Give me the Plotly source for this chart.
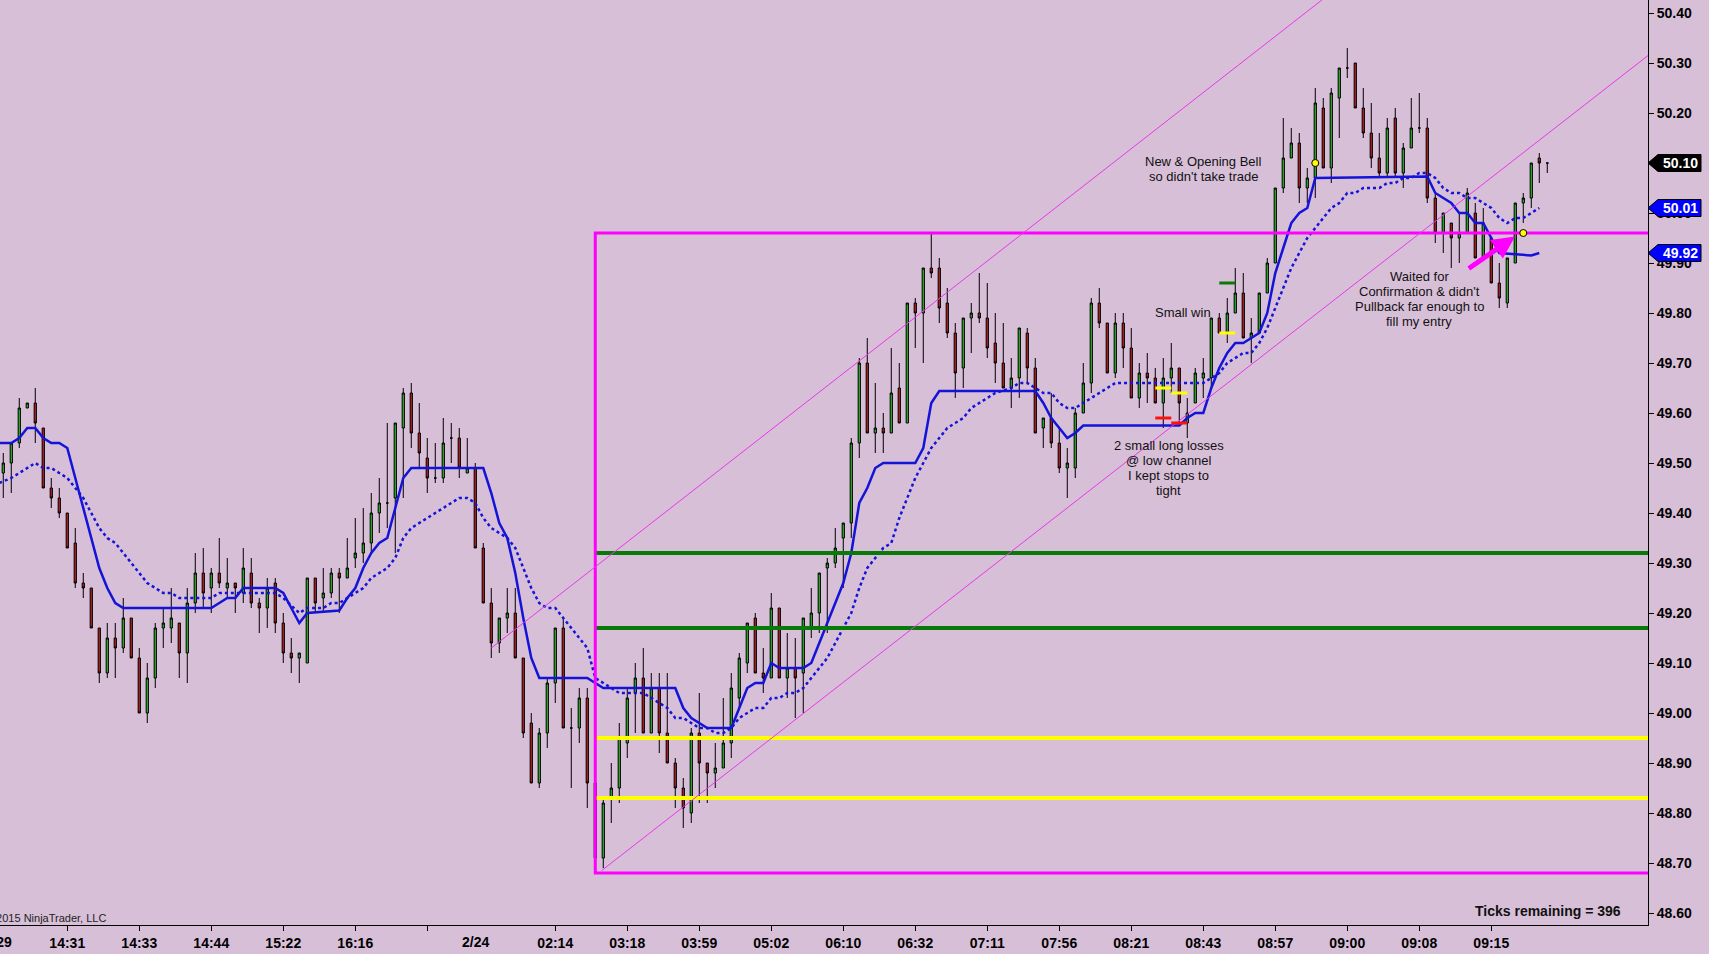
import plotly.graph_objects as go

# ---- price bars (one per bar slot, tick = 0.01) ----
opens = [
    49.48, 49.50, 49.54, 49.61, 49.62, 49.57, 49.45, 49.43, 49.40, 49.34,
    49.26, 49.25, 49.17, 49.08, 49.15, 49.13, 49.19, 49.11, 49.00, 49.07,
    49.17, 49.17, 49.18, 49.12, 49.22, 49.28, 49.25, 49.28, 49.25, 49.26,
    49.24, 49.28, 49.22, 49.21, 49.26, 49.18, 49.12, 49.11, 49.10, 49.27,
    49.23, 49.24, 49.28, 49.27, 49.31, 49.32, 49.34, 49.40, 49.42, 49.43,
    49.57, 49.64, 49.56, 49.51, 49.47, 49.47, 49.55, 49.55, 49.48, 49.49,
    49.33, 49.22, 49.14, 49.19, 49.20, 49.11, 48.98, 48.86, 48.96, 49.06,
    49.17, 48.97, 48.97, 49.03, 48.86, 48.71, 48.83, 48.85, 48.94, 49.04,
    49.07, 48.96, 49.05, 48.96, 48.90, 48.85, 48.80, 48.96, 48.90, 48.88,
    48.89, 48.94, 49.03, 49.10, 49.19, 49.08, 49.07, 49.21, 49.07, 49.09,
    49.08, 49.17, 49.20, 49.29, 49.30, 49.35, 49.38, 49.54, 49.70, 49.56,
    49.57, 49.56, 49.65, 49.58, 49.82, 49.80, 49.89, 49.89, 49.82, 49.76,
    49.69, 49.79, 49.80, 49.79, 49.74, 49.70, 49.65, 49.67, 49.76, 49.69,
    49.57, 49.59, 49.54, 49.49, 49.49, 49.60, 49.66, 49.82, 49.78, 49.68,
    49.78, 49.73, 49.63, 49.68, 49.67, 49.62, 49.67, 49.69, 49.58, 49.62,
    49.67, 49.67, 49.79, 49.76, 49.80, 49.84, 49.75, 49.76, 49.84, 49.90,
    50.05, 50.11, 50.14, 50.05, 50.07, 50.21, 50.09, 50.23, 50.29, 50.30,
    50.21, 50.16, 50.11, 50.08, 50.19, 50.08, 50.13, 50.17, 50.17, 50.03,
    49.96, 49.98, 49.95, 49.96, 50.00, 49.91, 49.95, 49.86, 49.82, 49.90,
    50.02, 50.03, 50.11, 50.10,
]
highs = [
    49.52, 49.54, 49.63, 49.62, 49.65, 49.57, 49.47, 49.45, 49.40, 49.37,
    49.28, 49.25, 49.17, 49.18, 49.18, 49.23, 49.19, 49.13, 49.10, 49.18,
    49.21, 49.25, 49.18, 49.25, 49.32, 49.33, 49.29, 49.35, 49.31, 49.26,
    49.33, 49.31, 49.23, 49.27, 49.27, 49.20, 49.15, 49.12, 49.27, 49.27,
    49.29, 49.29, 49.29, 49.35, 49.39, 49.41, 49.44, 49.47, 49.58, 49.58,
    49.65, 49.66, 49.62, 49.55, 49.54, 49.59, 49.58, 49.57, 49.55, 49.50,
    49.34, 49.25, 49.19, 49.25, 49.25, 49.11, 49.00, 48.97, 49.07, 49.17,
    49.19, 49.01, 49.05, 49.05, 48.87, 48.83, 48.90, 48.98, 49.05, 49.10,
    49.13, 49.08, 49.08, 49.08, 48.91, 48.87, 48.97, 49.04, 48.90, 48.94,
    49.03, 49.08, 49.12, 49.18, 49.20, 49.13, 49.24, 49.21, 49.16, 49.15,
    49.19, 49.25, 49.28, 49.31, 49.37, 49.38, 49.55, 49.71, 49.75, 49.66,
    49.60, 49.73, 49.70, 49.82, 49.83, 49.89, 49.96, 49.91, 49.85, 49.78,
    49.79, 49.82, 49.88, 49.86, 49.80, 49.78, 49.71, 49.77, 49.77, 49.71,
    49.59, 49.64, 49.57, 49.53, 49.61, 49.70, 49.83, 49.85, 49.78, 49.80,
    49.80, 49.77, 49.70, 49.72, 49.69, 49.71, 49.74, 49.69, 49.63, 49.69,
    49.71, 49.79, 49.80, 49.83, 49.89, 49.88, 49.79, 49.84, 49.91, 50.05,
    50.19, 50.17, 50.16, 50.09, 50.25, 50.23, 50.25, 50.29, 50.33, 50.30,
    50.25, 50.22, 50.16, 50.19, 50.21, 50.14, 50.23, 50.24, 50.19, 50.04,
    50.00, 49.98, 50.00, 50.05, 50.02, 50.01, 49.95, 49.90, 49.91, 50.02,
    50.04, 50.10, 50.12, 50.10,
]
lows = [
    49.43, 49.44, 49.53, 49.61, 49.54, 49.45, 49.41, 49.39, 49.33, 49.25,
    49.23, 49.17, 49.06, 49.07, 49.07, 49.12, 49.11, 49.00, 48.98, 49.05,
    49.13, 49.14, 49.07, 49.06, 49.20, 49.21, 49.20, 49.25, 49.23, 49.20,
    49.22, 49.21, 49.16, 49.17, 49.16, 49.10, 49.08, 49.06, 49.10, 49.20,
    49.20, 49.23, 49.20, 49.27, 49.29, 49.30, 49.32, 49.36, 49.37, 49.32,
    49.43, 49.53, 49.49, 49.44, 49.46, 49.46, 49.50, 49.47, 49.48, 49.33,
    49.22, 49.11, 49.12, 49.16, 49.11, 48.95, 48.86, 48.85, 48.93, 49.02,
    48.97, 48.85, 48.94, 48.81, 48.68, 48.69, 48.78, 48.82, 48.91, 48.96,
    48.96, 48.96, 48.92, 48.90, 48.81, 48.77, 48.78, 48.82, 48.82, 48.85,
    48.89, 48.91, 49.01, 49.08, 49.08, 49.04, 49.07, 49.07, 49.03, 48.99,
    49.00, 49.15, 49.16, 49.16, 49.29, 49.25, 49.35, 49.51, 49.56, 49.52,
    49.52, 49.56, 49.58, 49.58, 49.73, 49.70, 49.87, 49.78, 49.75, 49.63,
    49.65, 49.72, 49.78, 49.71, 49.66, 49.65, 49.61, 49.63, 49.66, 49.56,
    49.53, 49.53, 49.48, 49.43, 49.47, 49.60, 49.64, 49.77, 49.68, 49.67,
    49.69, 49.63, 49.61, 49.62, 49.62, 49.57, 49.64, 49.58, 49.55, 49.62,
    49.63, 49.65, 49.76, 49.74, 49.80, 49.75, 49.70, 49.76, 49.84, 49.90,
    50.04, 50.11, 50.02, 50.02, 50.03, 50.09, 50.06, 50.15, 50.27, 50.21,
    50.15, 50.09, 50.07, 50.07, 50.07, 50.05, 50.13, 50.16, 50.02, 49.94,
    49.92, 49.89, 49.90, 49.96, 49.91, 49.91, 49.86, 49.81, 49.81, 49.90,
    49.98, 50.01, 50.06, 50.08,
]
closes = [
    49.50, 49.54, 49.61, 49.62, 49.58, 49.45, 49.43, 49.40, 49.33, 49.26,
    49.25, 49.17, 49.08, 49.15, 49.13, 49.19, 49.11, 49.00, 49.07, 49.17,
    49.18, 49.19, 49.12, 49.22, 49.28, 49.24, 49.28, 49.26, 49.26, 49.25,
    49.29, 49.22, 49.21, 49.25, 49.18, 49.12, 49.11, 49.12, 49.27, 49.22,
    49.24, 49.28, 49.27, 49.29, 49.32, 49.34, 49.40, 49.42, 49.42, 49.58,
    49.64, 49.56, 49.52, 49.47, 49.47, 49.54, 49.55, 49.49, 49.49, 49.33,
    49.22, 49.14, 49.19, 49.20, 49.11, 48.96, 48.86, 48.96, 49.06, 49.17,
    48.97, 48.97, 49.03, 48.86, 48.71, 48.82, 48.85, 48.95, 49.03, 49.07,
    48.96, 49.05, 48.96, 48.90, 48.85, 48.81, 48.96, 48.90, 48.88, 48.89,
    48.94, 49.05, 49.11, 49.18, 49.08, 49.07, 49.21, 49.07, 49.09, 49.07,
    49.19, 49.20, 49.28, 49.30, 49.33, 49.38, 49.54, 49.70, 49.56, 49.57,
    49.56, 49.64, 49.58, 49.82, 49.80, 49.89, 49.88, 49.81, 49.76, 49.68,
    49.79, 49.80, 49.79, 49.73, 49.70, 49.65, 49.67, 49.77, 49.69, 49.56,
    49.59, 49.54, 49.49, 49.50, 49.60, 49.66, 49.82, 49.78, 49.68, 49.78,
    49.73, 49.63, 49.68, 49.67, 49.62, 49.67, 49.69, 49.62, 49.60, 49.68,
    49.68, 49.79, 49.76, 49.80, 49.84, 49.75, 49.76, 49.84, 49.90, 50.05,
    50.11, 50.14, 50.05, 50.07, 50.22, 50.09, 50.24, 50.29, 50.29, 50.21,
    50.16, 50.11, 50.08, 50.17, 50.08, 50.13, 50.17, 50.17, 50.03, 49.96,
    50.00, 49.95, 49.96, 50.04, 49.91, 49.98, 49.86, 49.83, 49.91, 50.02,
    50.03, 50.10, 50.10, 50.10,
]

# ---- indicators (vertices at bar index) ----
fast_x = [-0.5, 1, 2, 3, 4, 5, 6, 7, 8, 9, 10, 11, 12, 13, 14, 15, 26, 27, 28, 29,
          30, 34, 35, 36, 37, 38, 42, 43, 44, 45, 46, 47, 48, 49, 50, 51, 60, 61, 62, 63,
          64, 65, 66, 67, 73, 74, 75, 84, 85, 86, 87, 88, 91, 92, 93, 94, 95, 96, 97, 100,
          101, 102, 103, 104, 105, 106, 107, 108, 109, 110, 114, 115, 116, 117, 129, 130, 131, 132, 133, 134,
          135, 147, 148, 149, 150, 151, 152, 153, 154, 155, 156, 157, 158, 159, 160, 161, 162, 163, 164, 178,
          179, 180, 181, 182, 183, 184, 185, 186, 187, 191, 192]
fast_y = [49.54, 49.54, 49.55, 49.57, 49.57, 49.55, 49.54, 49.54, 49.53, 49.47, 49.41, 49.35, 49.29, 49.25, 49.22, 49.21, 49.21, 49.22, 49.23, 49.23,
          49.25, 49.25, 49.24, 49.21, 49.18, 49.20, 49.205, 49.23, 49.25, 49.29, 49.32, 49.34, 49.35, 49.41, 49.47, 49.49, 49.49, 49.44, 49.38, 49.35,
          49.28, 49.19, 49.11, 49.07, 49.07, 49.06, 49.05, 49.05, 49.01, 48.99, 48.98, 48.97, 48.97, 49.01, 49.05, 49.06, 49.06, 49.10, 49.09, 49.09,
          49.10, 49.14, 49.18, 49.22, 49.26, 49.32, 49.42, 49.45, 49.49, 49.50, 49.50, 49.53, 49.62, 49.644, 49.644, 49.62, 49.59, 49.57, 49.55, 49.56,
          49.575, 49.575, 49.59, 49.60, 49.60, 49.65, 49.69, 49.72, 49.74, 49.74, 49.75, 49.76, 49.80, 49.88, 49.93, 49.98, 50.00, 50.01, 50.07, 50.073,
          50.04, 50.03, 50.02, 50.00, 50.00, 49.98, 49.98, 49.95, 49.92, 49.915, 49.92]

slow_x = [-0.5, 1, 2, 3, 4, 5, 6, 7, 8, 9, 10, 11, 12, 13, 14, 15, 16, 17, 18, 19,
          20, 21, 22, 26, 27, 34, 35, 36, 37, 38, 40, 41, 42, 43, 44, 45, 46, 47, 48, 49,
          50, 51, 52, 53, 54, 55, 56, 57, 58, 59, 60, 61, 62, 63, 64, 65, 66, 67, 68, 69,
          70, 71, 72, 73, 74, 75, 76, 77, 80, 81, 82, 83, 84, 85, 86, 87, 88, 89, 90, 91,
          92, 93, 94, 95, 96, 97, 98, 99, 100, 101, 102, 103, 104, 105, 106, 107, 108, 109, 110, 111,
          112, 113, 114, 115, 116, 117, 118, 119, 120, 121, 122, 123, 124, 125, 126, 127, 128, 129, 130, 131,
          132, 133, 134, 135, 136, 137, 138, 139, 150, 151, 152, 153, 154, 155, 156, 157, 158, 159, 160, 161,
          162, 163, 164, 165, 166, 167, 168, 169, 170, 172, 173, 174, 175, 176, 177, 178, 179, 180, 181, 182,
          183, 184, 185, 186, 187, 188, 189, 190, 191, 192]
slow_y = [49.46, 49.47, 49.48, 49.49, 49.50, 49.49, 49.49, 49.48, 49.47, 49.45, 49.43, 49.40, 49.37, 49.35, 49.34, 49.32, 49.30, 49.28, 49.26, 49.25,
          49.24, 49.24, 49.23, 49.23, 49.24, 49.24, 49.23, 49.215, 49.20, 49.21, 49.21, 49.22, 49.22, 49.23, 49.24, 49.25, 49.27, 49.28, 49.29, 49.31,
          49.35, 49.37, 49.38, 49.39, 49.40, 49.41, 49.42, 49.43, 49.43, 49.42, 49.39, 49.37, 49.36, 49.35, 49.33, 49.29, 49.25, 49.22, 49.21, 49.21,
          49.19, 49.17, 49.15, 49.13, 49.07, 49.06, 49.05, 49.04, 49.04, 49.03, 49.02, 49.01, 48.99, 48.99, 48.98, 48.97, 48.97, 48.96, 48.96, 48.97,
          48.99, 49.00, 49.01, 49.01, 49.03, 49.03, 49.04, 49.04, 49.05, 49.07, 49.09, 49.11, 49.14, 49.17, 49.20, 49.25, 49.29, 49.31, 49.33, 49.34,
          49.39, 49.43, 49.47, 49.50, 49.53, 49.55, 49.57, 49.58, 49.59, 49.61, 49.62, 49.63, 49.64, 49.645, 49.65, 49.66, 49.66, 49.65, 49.64, 49.64,
          49.62, 49.61, 49.61, 49.62, 49.63, 49.64, 49.65, 49.66, 49.66, 49.67, 49.68, 49.70, 49.71, 49.72, 49.72, 49.74, 49.77, 49.81, 49.85, 49.89,
          49.92, 49.95, 49.97, 49.99, 50.01, 50.02, 50.04, 50.04, 50.05, 50.05, 50.06, 50.06, 50.07, 50.07, 50.08, 50.08, 50.07, 50.05, 50.04, 50.04,
          50.03, 50.03, 50.02, 50.01, 49.99, 49.98, 49.99, 49.99, 50.00, 50.01]

# ---- hand-drawn objects ----
box_left = 74.0
box_top = 49.96
box_bottom = 48.68
green_levels = [49.32, 49.17]
yellow_levels = [48.95, 48.83]
chan_upper_x = [61.0, 206.0]
chan_upper_y = [49.13, 50.94]
chan_lower_x = [74.8, 206.0]
chan_lower_y = [48.685, 50.32]

# trade marks: (start bar, end bar, price)
marks_yellow = [(144, 146, 49.65), (146, 148, 49.64), (152, 154, 49.76)]
marks_red = [(144, 146, 49.59), (146, 148, 49.58)]
marks_green = [(152, 154, 49.86)]
dots_x = [164, 190]
dots_y = [50.10, 49.96]

tick_bars = [8, 17, 26, 35, 44, 53, 69, 78, 87, 96, 105, 114, 123, 132, 141, 150, 159, 168, 177, 186]
tick_text = ["14:31", "14:33", "14:44", "15:22", "16:16", "", "02:14", "03:18", "03:59", "05:02",
             "06:10", "06:32", "07:11", "07:56", "08:21", "08:43", "08:57", "09:00", "09:08", "09:15"]

W, H = 1709, 954
R_M, B_M = 61, 29
PW, PH = W - R_M, H - B_M
X_MIN, X_MAX = -0.41, 205.59
Y_MIN, Y_MAX = 48.576, 50.426

BG = "#D8BFD8"
UP = "#2DB52D"
DOWN = "#B22222"
MAG = "#FF00FF"
BLUE = "#1414D8"
FONT = "Liberation Sans, Arial, sans-serif"

fig = go.Figure()

fig.add_trace(go.Candlestick(
    x=list(range(len(opens))), open=opens, high=highs, low=lows, close=closes,
    increasing=dict(fillcolor=UP, line=dict(color="black", width=1)),
    decreasing=dict(fillcolor=DOWN, line=dict(color="black", width=1)),
    whiskerwidth=0, hoverinfo="skip", showlegend=False,
))

fig.add_trace(go.Scatter(x=slow_x, y=slow_y, mode="lines",
                         line=dict(color=BLUE, width=2.5, dash="dot"),
                         hoverinfo="skip", showlegend=False))
fig.add_trace(go.Scatter(x=fast_x, y=fast_y, mode="lines",
                         line=dict(color=BLUE, width=2.5),
                         hoverinfo="skip", showlegend=False))

def hline(x0, x1, y, color, width):
    fig.add_trace(go.Scatter(x=[x0, x1], y=[y, y], mode="lines",
                             line=dict(color=color, width=width),
                             hoverinfo="skip", showlegend=False))

for lv in green_levels:
    hline(box_left, 210, lv, "#087A08", 4)
for lv in yellow_levels:
    hline(box_left, 210, lv, "#FFFF00", 4)

# the box
fig.add_trace(go.Scatter(x=[210, box_left, box_left, 210],
                         y=[box_top, box_top, box_bottom, box_bottom],
                         mode="lines", line=dict(color=MAG, width=3),
                         hoverinfo="skip", showlegend=False))

# channel
for cx, cy in [(chan_upper_x, chan_upper_y), (chan_lower_x, chan_lower_y)]:
    fig.add_trace(go.Scatter(x=cx, y=cy, mode="lines", line=dict(color="#E838E8", width=1),
                             hoverinfo="skip", showlegend=False))

for marks, col in [(marks_yellow, "#FFFF00"), (marks_red, "#FF1010"), (marks_green, "#087A08")]:
    for x0, x1, p in marks:
        hline(x0, x1, p, col, 3)

fig.add_trace(go.Scatter(x=dots_x, y=dots_y, mode="markers",
                         marker=dict(color="#FFFF00", size=7, line=dict(color="black", width=1)),
                         hoverinfo="skip", showlegend=False))

annos = []

def note(lines, x, y, size=13):
    n = len(lines)
    for i, t in enumerate(lines):
        annos.append(dict(x=x, y=y, xref="x", yref="y", text=t, showarrow=False,
                          xanchor="center", yanchor="middle",
                          yshift=-(i - (n - 1) / 2) * 15,
                          font=dict(family=FONT, size=size, color="#111111")))

note(["New & Opening Bell", "so didn't take trade"], 150, 50.088)
note(["Small win"], 147.5, 49.802)
note(["2 small long losses", "@ low channel", "I kept stops to", "tight"], 145.7, 49.491)
note(["Waited for", "Confirmation & didn't", "Pullback far enough to", "fill my entry"], 177.0, 49.829)

# magenta arrow
annos.append(dict(x=188.96, y=49.953, ax=183.0, ay=49.887, xref="x", yref="y",
                  axref="x", ayref="y", text="", showarrow=True, arrowhead=2,
                  arrowsize=0.9, arrowwidth=5, arrowcolor=MAG, standoff=0))

annos.append(dict(x=1623 / PW, y=(PH - 911) / PH, xref="paper", yref="paper",
                  text="<b>Ticks remaining = 396</b>", showarrow=False,
                  xanchor="right", yanchor="middle",
                  font=dict(family=FONT, size=14, color="#111111")))
annos.append(dict(x=108 / PW, y=(PH - 918) / PH, xref="paper", yref="paper",
                  text="©2015 NinjaTrader, LLC", showarrow=False,
                  xanchor="right", yanchor="middle",
                  font=dict(family=FONT, size=11, color="#222222")))
# cut-off first time label and the date label
annos.append(dict(x=13.7 / PW, y=0, xref="paper", yref="paper", yshift=-7,
                  text="<b>14:29</b>", showarrow=False, xanchor="right", yanchor="top",
                  font=dict(family=FONT, size=14, color="black")))
annos.append(dict(x=59, y=0, xref="x", yref="paper", yshift=-7,
                  text="<b>2/24</b>", showarrow=False, xanchor="center", yanchor="top",
                  font=dict(family=FONT, size=14, color="black")))

# price tags on the right axis
shapes = []
def tag(price, color):
    yp = (price - Y_MIN) / (Y_MAX - Y_MIN)
    hh = 8.5 / PH
    xa, xb, xc = 1.0, 1 + 10 / PW, 1 + 53 / PW
    path = (f"M {xa},{yp} L {xb},{yp + hh} L {xc},{yp + hh} "
            f"L {xc},{yp - hh} L {xb},{yp - hh} Z")
    shapes.append(dict(type="path", path=path, xref="paper", yref="paper",
                       fillcolor=color, line=dict(color="black", width=1), layer="above"))
    annos.append(dict(x=1 + 32 / PW, y=yp, xref="paper", yref="paper",
                      text=f"<b>{price:.2f}</b>", showarrow=False,
                      xanchor="center", yanchor="middle",
                      font=dict(family=FONT, size=14, color="white")))

tag(closes[-1], "black")
tag(slow_y[-1], "#0000FF")
tag(fast_y[-1], "#0000FF")

fig.update_layout(
    width=W, height=H,
    margin=dict(l=0, r=R_M, t=0, b=B_M),
    paper_bgcolor=BG, plot_bgcolor=BG,
    boxgap=0.6,
    showlegend=False,
    annotations=annos,
    shapes=shapes,
    xaxis=dict(range=[X_MIN, X_MAX], rangeslider=dict(visible=False),
               showgrid=False, zeroline=False, showline=True, linecolor="black", linewidth=1,
               ticks="outside", ticklen=5, tickcolor="black",
               tickvals=tick_bars, ticktext=[f"<b>{t}</b>" if t else "" for t in tick_text],
               tickfont=dict(family=FONT, size=14, color="black")),
    yaxis=dict(range=[Y_MIN, Y_MAX], side="right",
               showgrid=False, zeroline=False, showline=True, linecolor="black", linewidth=1,
               ticks="outside", ticklen=5, tickcolor="black",
               tick0=48.6, dtick=0.1, tickformat=".2f",
               tickfont=dict(family=FONT, size=14, color="black")),
)
fig.update_yaxes(tickprefix="<b>", ticksuffix="</b>")

# page has a default body margin; drop it so the chart fills the window
fig.write_html("out.html", config={"displayModeBar": False},
               post_script="document.body.style.margin='0';")
